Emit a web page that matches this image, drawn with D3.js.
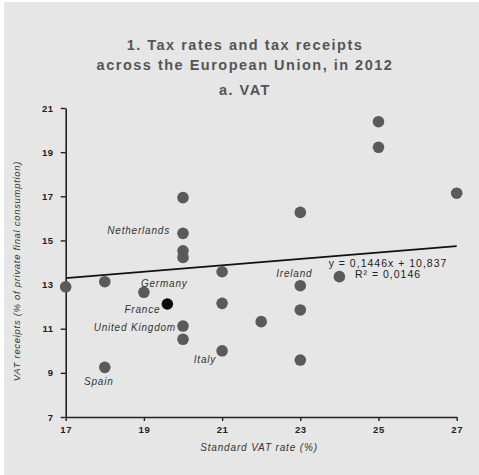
<!DOCTYPE html>
<html>
<head>
<meta charset="utf-8">
<script src="https://cdn.jsdelivr.net/npm/d3@7"></script>
<style>
  html, body { margin: 0; padding: 0; background: #ffffff; }
  svg { display: block; }
</style>
</head>
<body>
<svg id="chart" width="479" height="475"></svg>
<script>
// ---- data ----
const vatRate = [17, 18, 18, 19, 19.6, 20, 20, 20, 20, 20, 20, 21, 21, 21, 22, 23, 23, 23, 23, 24, 25, 25, 27];
const vatReceipts = [12.9, 13.13, 9.25, 12.65, 12.12, 16.94, 15.32, 14.53, 14.23, 11.12, 10.52, 13.58, 12.15, 10.0, 11.32, 16.27, 12.95, 11.85, 9.58, 13.36, 20.38, 19.22, 17.14];
const highlighted = [false, false, false, false, true, false, false, false, false, false, false, false, false, false, false, false, false, false, false, false, false, false, false];
const labelNames = ["Netherlands", "Germany", "France", "United Kingdom", "Italy", "Spain", "Ireland"];
const labelPoint = [6, 3, 4, 9, 13, 2, 16];
const xTicks = [17, 19, 21, 23, 25, 27];
const yTicks = [7, 9, 11, 13, 15, 17, 19, 21];
const trendSlope = 0.1446;
const trendIntercept = 10.837;
const trendText = ["y = 0,1446x + 10,837", "R² = 0,0146"];
const titleLines = ["1. Tax rates and tax receipts", "across the European Union, in 2012"];
const subTitle = "a. VAT";
const xTitle = "Standard VAT rate (%)";
const yTitle = "VAT receipts (% of private final consumption)";

// label layout (offsets from point, anchor)
const labelLayout = [
  {dx: -13, dy: -3, anchor: "end"},
  {dx: -3, dy: -9, anchor: "start"},
  {dx: -7, dy: 6, anchor: "end"},
  {dx: -7, dy: 1, anchor: "end"},
  {dx: -6, dy: 9, anchor: "end"},
  {dx: -6, dy: 14, anchor: "middle"},
  {dx: -6, dy: -12, anchor: "middle"}
];

const svg = d3.select("#chart");
svg.append("rect").attr("x", 4).attr("y", 2).attr("width", 475).attr("height", 473).attr("fill", "#e6e6e6");

const x = d3.scaleLinear().domain([17, 27]).range([65.7, 456.7]);
const y = d3.scaleLinear().domain([7, 21]).range([417, 108]);

const font = "'Liberation Sans', Arial, sans-serif";

// title
const tg = svg.append("g").attr("font-family", font).attr("font-weight", "bold").attr("fill", "#555")
  .attr("text-anchor", "middle").attr("letter-spacing", 1.5).attr("font-size", 14.5);
tg.append("text").attr("x", 245).attr("y", 50).text(titleLines[0]);
tg.append("text").attr("x", 245).attr("y", 70).text(titleLines[1]);
tg.append("text").attr("x", 245).attr("y", 95).text(subTitle);

// axes
const xAxis = d3.axisBottom(x).tickValues(xTicks).tickSize(4).tickSizeOuter(0).tickPadding(5);
const yAxis = d3.axisLeft(y).tickValues(yTicks).tickSize(5).tickSizeOuter(0).tickPadding(7);

const gx = svg.append("g").attr("transform", `translate(0,${y(7)})`).call(xAxis);
const gy = svg.append("g").attr("transform", `translate(${x(17)},0)`).call(yAxis);
[gx, gy].forEach(g => {
  g.select(".domain").attr("stroke", "#222").attr("stroke-width", 1.6);
  g.selectAll(".tick line").attr("stroke", "#222").attr("stroke-width", 1.4);
  g.selectAll(".tick text").attr("fill", "#222").attr("font-family", font).attr("font-weight", "bold")
    .attr("font-size", 9.5).attr("letter-spacing", 0.6);
});

// axis titles
svg.append("text").attr("x", 259).attr("y", 451).attr("text-anchor", "middle")
  .attr("font-family", font).attr("font-style", "italic").attr("font-size", 10).attr("fill", "#333")
  .attr("letter-spacing", 0.85)
  .text(xTitle);
svg.append("text").attr("transform", `translate(20,271) rotate(-90)`).attr("text-anchor", "middle")
  .attr("font-family", font).attr("font-style", "italic").attr("font-size", 9.5).attr("fill", "#333")
  .attr("letter-spacing", 0.7)
  .text(yTitle);

// trend line
svg.append("line")
  .attr("x1", x(17)).attr("y1", y(trendSlope * 17 + trendIntercept))
  .attr("x2", x(27)).attr("y2", y(trendSlope * 27 + trendIntercept))
  .attr("stroke", "#111").attr("stroke-width", 1.8);

// points
const pts = vatRate.map((v, i) => ({x: v, y: vatReceipts[i], h: highlighted[i]}));
svg.append("g").selectAll("circle").data(pts).join("circle")
  .attr("cx", d => x(d.x)).attr("cy", d => y(d.y)).attr("r", 5.8)
  .attr("fill", d => d.h ? "#0a0a0a" : "#5a5a5a");

// labels
svg.append("g").selectAll("text").data(labelNames).join("text")
  .attr("x", (d, i) => x(vatRate[labelPoint[i]]) + labelLayout[i].dx)
  .attr("y", (d, i) => y(vatReceipts[labelPoint[i]]) + labelLayout[i].dy + 3.5)
  .attr("text-anchor", (d, i) => labelLayout[i].anchor)
  .attr("font-family", font).attr("font-style", "italic").attr("font-size", 10).attr("fill", "#333")
  .attr("letter-spacing", 0.8)
  .text(d => d);

// equation
const eq = svg.append("g").attr("font-family", font).attr("font-size", 10.5).attr("fill", "#222")
  .attr("text-anchor", "middle").attr("letter-spacing", 1);
eq.append("text").attr("x", 388).attr("y", 267).text(trendText[0]);
eq.append("text").attr("x", 388).attr("y", 278).text(trendText[1]);
</script>
</body>
</html>
